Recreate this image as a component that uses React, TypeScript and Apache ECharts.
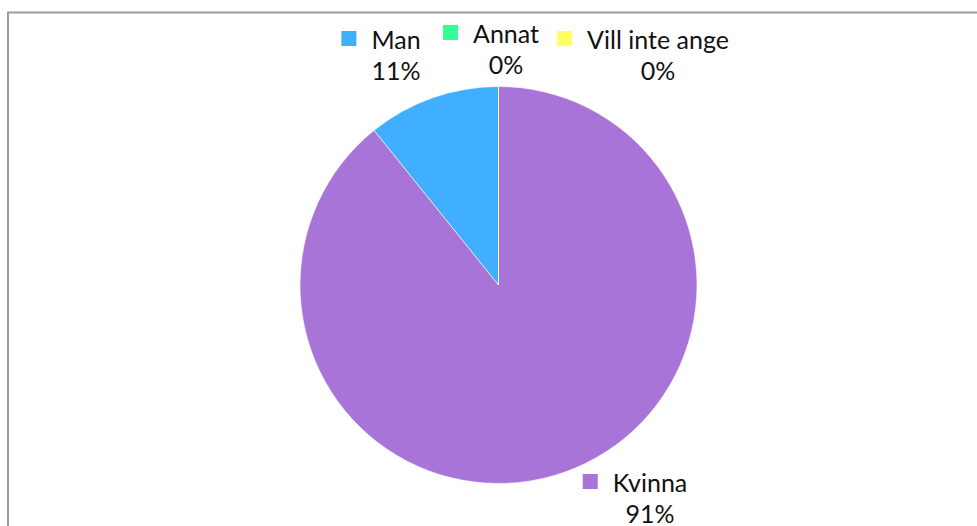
import React, { useEffect, useRef } from "react";
import * as echarts from "echarts";

const categories = ["Kvinna", "Man", "Annat", "Vill inte ange"];
const values = [91, 11, 0, 0];
const colors = ["#A974D8", "#40AFFF", "#36FD98", "#FFFF66"];
// label block centres (layout only)
const labelPos = [
  [635, 497],
  [381, 54],
  [491, 48],
  [643, 54],
];

export default function App() {
  const ref = useRef<HTMLDivElement>(null);
  useEffect(() => {
    if (!ref.current) return;
    const chart = echarts.init(ref.current, null, { renderer: "svg" });
    const font = "Lato, 'Noto Sans', sans-serif";
    chart.setOption({
      animation: false,
      backgroundColor: "#ffffff",
      graphic: [
        {
          type: "rect",
          shape: { x: 8, y: 12.5, width: 1200, height: 800 },
          style: { fill: "none", stroke: "#9b9b9b", lineWidth: 2 },
          silent: true,
        },
      ],
      series: [
        {
          type: "pie",
          center: [498.5, 285],
          radius: 198.5,
          startAngle: 90,
          clockwise: true,
          stillShowZeroSum: true,
          itemStyle: { borderColor: "#ffffff", borderWidth: 0.6 },
          labelLine: { show: false },
          label: {
            show: true,
            position: "outside",
            fontFamily: font,
            color: "#111111",
            formatter: (p: any) =>
              "{sq" + p.dataIndex + "|}{name|" + p.name + "}\n{pct|" + p.value + "%}",
            rich: {
              sq0: { width: 15, height: 15, backgroundColor: colors[0] },
              sq1: { width: 15, height: 15, backgroundColor: colors[1] },
              sq2: { width: 15, height: 15, backgroundColor: colors[2] },
              sq3: { width: 15, height: 15, backgroundColor: colors[3] },
              name: {
                fontFamily: font,
                fontSize: 25,
                lineHeight: 31,
                color: "#111111",
                padding: [0, 0, 0, 15],
              },
              pct: {
                fontFamily: font,
                fontSize: 25,
                lineHeight: 31,
                color: "#111111",
                padding: [0, 0, 0, 30],
              },
            },
          },
          labelLayout: (params: any) => {
            const pos = labelPos[params.dataIndex];
            return {
              x: pos[0],
              y: pos[1],
              align: "center",
              verticalAlign: "middle",
              hideOverlap: false,
            };
          },
          data: categories.map((c, i) => ({
            name: c,
            value: values[i],
            itemStyle: { color: colors[i] },
          })),
        },
      ],
    });
    return () => chart.dispose();
  }, []);
  return (
    <div
      ref={ref}
      style={{ position: "fixed", left: 0, top: 0, width: 977, height: 526 }}
    />
  );
}
